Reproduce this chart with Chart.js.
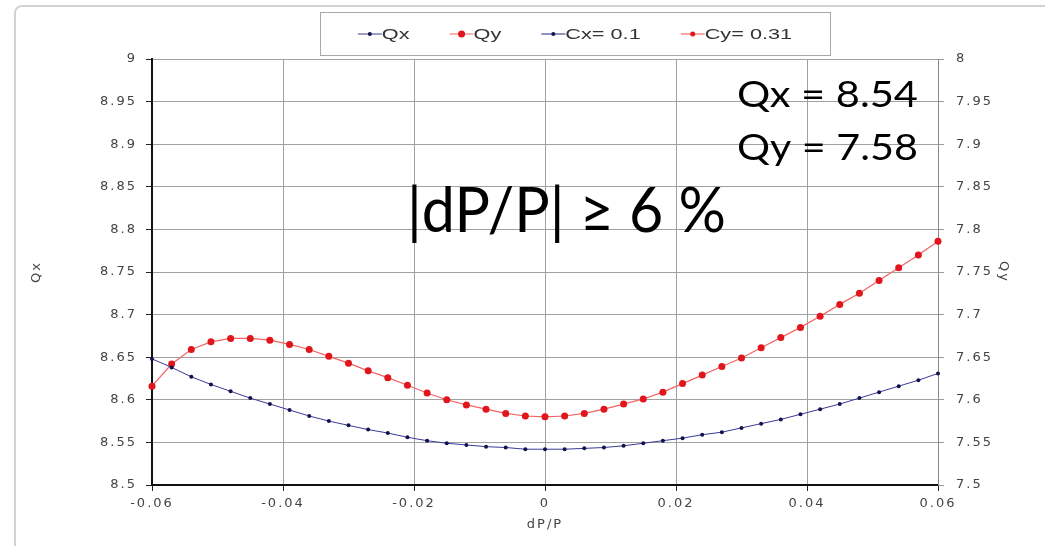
<!DOCTYPE html>
<html>
<head>
<meta charset="utf-8">
<script src="https://cdn.jsdelivr.net/npm/chart.js@4.4.1/dist/chart.umd.min.js"></script>
<style>
  html, body { margin: 0; padding: 0; background: #fff; }
  #wrap { width: 1045px; height: 546px; }
</style>
</head>
<body>
<div id="wrap"><canvas id="chart" width="1045" height="546"></canvas></div>
<script>
// dP/P sample points
const dpp = [
  -0.06, -0.057, -0.054, -0.051, -0.048, -0.045, -0.042, -0.039, -0.036, -0.033,
  -0.03, -0.027, -0.024, -0.021, -0.018, -0.015, -0.012, -0.009, -0.006, -0.003,
  0,
  0.003, 0.006, 0.009, 0.012, 0.015, 0.018, 0.021, 0.024, 0.027, 0.03,
  0.033, 0.036, 0.039, 0.042, 0.045, 0.048, 0.051, 0.054, 0.057, 0.06
];

const qx = [
  8.648, 8.638, 8.627, 8.618, 8.610, 8.602, 8.595, 8.588, 8.581, 8.575,
  8.570, 8.565, 8.561, 8.556, 8.552, 8.549, 8.547, 8.545, 8.544, 8.542,
  8.542,
  8.542, 8.543, 8.544, 8.546, 8.549, 8.552, 8.555, 8.559, 8.562, 8.567,
  8.572, 8.577, 8.583, 8.589, 8.595, 8.602, 8.609, 8.616, 8.623, 8.631
];

const qy = [
  7.616, 7.642, 7.659, 7.668, 7.672, 7.672, 7.670, 7.665, 7.659, 7.651,
  7.643, 7.634, 7.626, 7.617, 7.608, 7.600, 7.594, 7.589, 7.584, 7.581,
  7.580,
  7.581, 7.584, 7.589, 7.595, 7.601, 7.609, 7.619, 7.629, 7.639, 7.649,
  7.661, 7.673, 7.685, 7.698, 7.712, 7.725, 7.740, 7.755, 7.770, 7.786
];

const seriesNames = ["Qx", "Qy", "Cx= 0.1", "Cy= 0.31"];

const xTicks = [-0.06, -0.04, -0.02, 0, 0.02, 0.04, 0.06];
const yTicks = [8.5, 8.55, 8.6, 8.65, 8.7, 8.75, 8.8, 8.85, 8.9, 8.95, 9];
const y2Ticks = [7.5, 7.55, 7.6, 7.65, 7.7, 7.75, 7.8, 7.85, 7.9, 7.95, 8];

const notes = ["Qx = 8.54", "Qy = 7.58", "|dP/P| \u2265 6 %"];

const fmt = v => String(parseFloat(Number(v).toFixed(3)));

// text squeezed/stretched to a given width (the source picture is stretched sideways)
function wideText(ctx, str, left, base, size, family, w) {
  ctx.save();
  ctx.font = size + "px " + family;
  ctx.textAlign = "left";
  ctx.textBaseline = "alphabetic";
  const m = ctx.measureText(str).width;
  ctx.translate(left, base);
  ctx.scale(w ? w / m : 1.55, 1);
  ctx.fillText(str, 0, 0);
  ctx.restore();
  return w ? w : m * 1.55;
}

const decor = {
  id: "decor",
  beforeDraw(chart) {
    const ctx = chart.ctx;
    ctx.save();
    ctx.strokeStyle = "#d2d2d2";
    ctx.lineWidth = 2;
    ctx.beginPath();
    ctx.moveTo(15, 546);
    ctx.lineTo(15, 13);
    ctx.arcTo(15, 6, 22, 6, 7);
    ctx.lineTo(1045, 6);
    ctx.stroke();
    ctx.restore();
    ctx.letterSpacing = "2px";
  },
  afterDraw(chart) {
    const ctx = chart.ctx;
    ctx.letterSpacing = "0px";

    // legend
    ctx.save();
    ctx.strokeStyle = "#a8a8a8";
    ctx.lineWidth = 1;
    ctx.strokeRect(320.5, 12.5, 510, 43);
    ctx.font = "14px 'Liberation Sans'";
    const ds = chart.data.datasets;
    let total = 0;
    ds.forEach(d => { total += 24 + ctx.measureText(d.label).width * 1.55; });
    total += 40 * (ds.length - 1);
    let x = 575 - total / 2;
    const yy = 34;
    ds.forEach(d => {
      ctx.strokeStyle = d.borderColor;
      ctx.lineWidth = 1;
      ctx.beginPath();
      ctx.moveTo(x, yy);
      ctx.lineTo(x + 24, yy);
      ctx.stroke();
      ctx.fillStyle = d.pointBackgroundColor;
      ctx.beginPath();
      ctx.arc(x + 12, yy, d.pointRadius, 0, Math.PI * 2);
      ctx.fill();
      ctx.fillStyle = "#333";
      const w = wideText(ctx, d.label, x + 24, yy + 5, 14, "'Liberation Sans'");
      x += 24 + w + 40;
    });
    ctx.restore();

    // notes
    ctx.save();
    ctx.fillStyle = "#000";
    wideText(ctx, notes[0], 737, 107, 36, "Lato", 181);
    wideText(ctx, notes[1], 737, 160, 36, "Lato", 181);
    wideText(ctx, notes[2], 407, 232, 61, "Lato", 319);
    ctx.restore();
  }
};

const tickFont = { family: "'DejaVu Sans'", size: 13 };

new Chart(document.getElementById("chart"), {
  type: "line",
  data: {
    datasets: [
      {
        label: seriesNames[0],
        data: dpp.map((v, i) => ({ x: v, y: qx[i] })),
        yAxisID: "y",
        borderColor: "#3a3a98",
        borderWidth: 1,
        pointRadius: 2,
        pointBackgroundColor: "#12124c",
        pointBorderWidth: 0,
        clip: false
      },
      {
        label: seriesNames[1],
        data: dpp.map((v, i) => ({ x: v, y: qy[i] })),
        yAxisID: "y2",
        borderColor: "#f26464",
        borderWidth: 1.2,
        pointRadius: 3.5,
        pointBackgroundColor: "#e0161c",
        pointBorderWidth: 0,
        clip: false
      },
      {
        label: seriesNames[2],
        data: [],
        yAxisID: "y",
        borderColor: "#24247e",
        pointRadius: 2,
        pointBackgroundColor: "#12124c"
      },
      {
        label: seriesNames[3],
        data: [],
        yAxisID: "y2",
        borderColor: "#f05050",
        pointRadius: 2.5,
        pointBackgroundColor: "#e0161c"
      }
    ]
  },
  options: {
    responsive: false,
    animation: false,
    devicePixelRatio: 1,
    layout: { padding: { top: 59, left: 25, right: 30, bottom: 10 } },
    plugins: {
      legend: { display: false },
      tooltip: { enabled: false }
    },
    scales: {
      x: {
        type: "linear",
        min: -0.06,
        max: 0.06,
        afterBuildTicks: s => { s.ticks = xTicks.map(v => ({ value: v })); },
        afterFit: s => { s.height = 51; },
        ticks: { callback: fmt, font: tickFont, color: "#444", padding: 5, maxRotation: 0 },
        grid: { color: "#a0a0a0", tickColor: "#222", tickLength: 6 },
        border: { color: "#111", width: 2 },
        title: { display: true, text: "dP/P", color: "#444", font: { family: "'DejaVu Sans'", size: 13 }, padding: { top: 2, bottom: 4 } }
      },
      y: {
        position: "left",
        min: 8.5,
        max: 9,
        afterBuildTicks: s => { s.ticks = yTicks.map(v => ({ value: v })); },
        afterFit: s => { s.width = 127; },
        ticks: { callback: fmt, font: tickFont, color: "#444", padding: 9 },
        grid: { color: "#a0a0a0", tickColor: "#222", tickLength: 6 },
        border: { color: "#111", width: 2 },
        title: { display: true, text: "Qx", color: "#444", font: { family: "'DejaVu Sans'", size: 13 }, padding: 4 }
      },
      y2: {
        position: "right",
        min: 7.5,
        max: 8,
        afterBuildTicks: s => { s.ticks = y2Ticks.map(v => ({ value: v })); },
        afterFit: s => { s.width = 77; },
        ticks: { callback: fmt, font: tickFont, color: "#444", padding: 12 },
        grid: { drawOnChartArea: false, tickColor: "#999", tickLength: 6 },
        border: { color: "#8a8a8a", width: 1 },
        title: { display: true, text: "Qy", color: "#444", font: { family: "'DejaVu Sans'", size: 13 }, padding: 4 }
      }
    }
  },
  plugins: [decor]
});
</script>
</body>
</html>
